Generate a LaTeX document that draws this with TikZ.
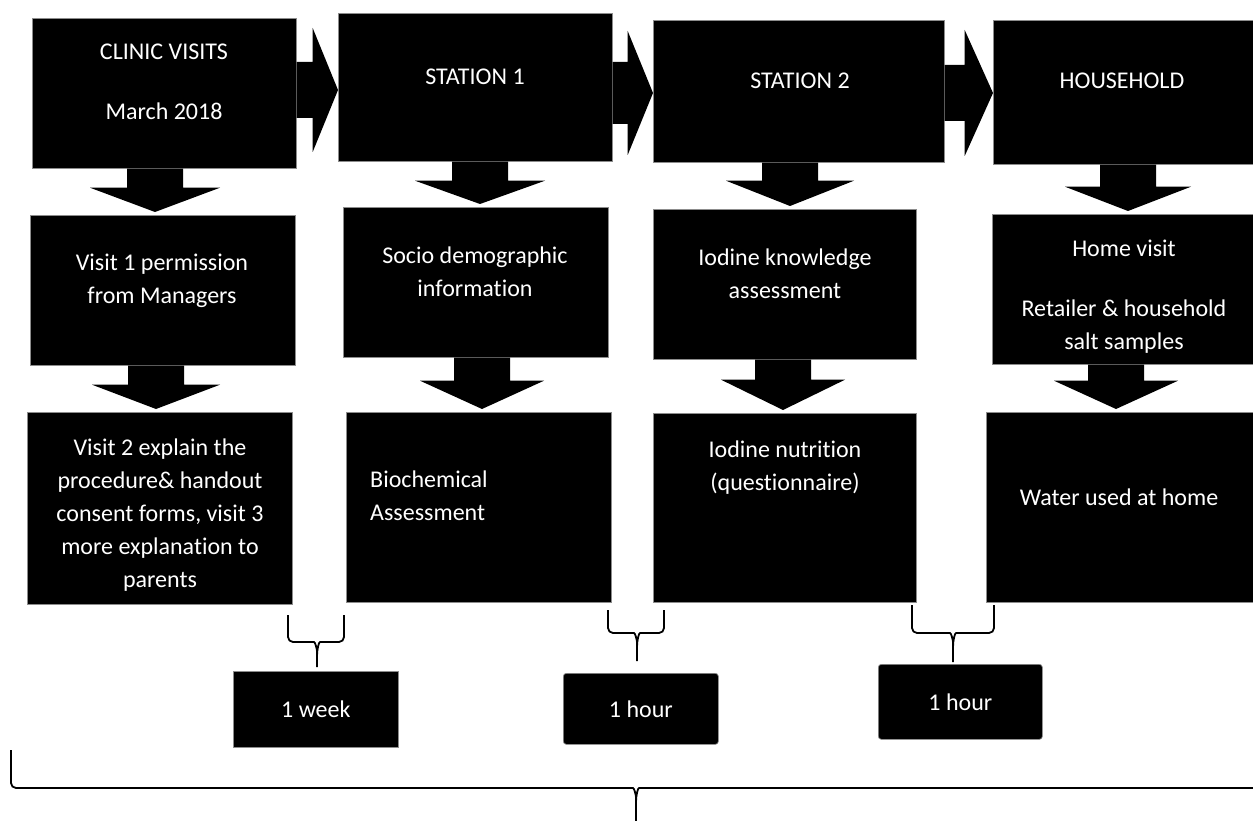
\documentclass[tikz,border=0pt]{standalone}
\usepackage{fontspec}
\setmainfont{Carlito}[Ligatures=NoCommon]
\usetikzlibrary{calc}

% Block arrow pointing down from one box to the box below it.
% #1 source node, #2 target node, #3 axis x, #4 shaft half width,
% #5 head half width, #6 shaft length
\newcommand\downblock[6]{%
  \fill let \p1=(#1.south), \p2=(#2.north) in
    (#3pt-#4pt,\y1) -- (#3pt+#4pt,\y1) -- (#3pt+#4pt,\y1-#6pt)
    -- (#3pt+#5pt,\y1-#6pt) -- (#3pt,\y2+3pt) -- (#3pt-#5pt,\y1-#6pt)
    -- (#3pt-#4pt,\y1-#6pt) -- cycle;}

% Block arrow pointing right from one box to the next one.
% #1 source node, #2 target node, #3 axis y (from the top), #4 shaft half
% height, #5 head half height, #6 shaft length
\newcommand\rightblock[6]{%
  \fill let \p1=(#1.east), \p2=(#2.west) in
    (\x1,-#3pt+#4pt) -- (\x1+#6pt,-#3pt+#4pt) -- (\x1+#6pt,-#3pt+#5pt)
    -- (\x2,-#3pt) -- (\x1+#6pt,-#3pt-#5pt) -- (\x1+#6pt,-#3pt-#4pt)
    -- (\x1,-#3pt-#4pt) -- cycle;}

% Curly brace opening upwards, its stem ending at a named point.
% #1 left arm, #2 right arm, #3 arm top, #4 bar height, #5 stem x, #6 stem end
\newcommand\spanbrace[6]{%
  \draw[bracepen] (#1,#3) -- (#1,#4) -- (#5-8,#4) to[out=0,in=90] (#5,#4+14) -- (#6);
  \draw[bracepen] (#2,#3) -- (#2,#4) -- (#5+8,#4) to[out=180,in=90] (#5,#4+14);}

\begin{document}
\begin{tikzpicture}[x=1pt,y=-1pt,
  box/.style={fill=black, draw=black!45, line width=0.7pt, inner sep=0pt,
              anchor=north west},
  tbox/.style={box, text=white, font=\fontsize{24}{33}\selectfont},
  rbox/.style={tbox, rounded corners=3pt},
  txt/.style={text=white, font=\fontsize{24}{33}\selectfont, align=center,
              inner sep=0pt, anchor=north},
  bracepen/.style={line width=1.8pt, rounded corners=5pt, line join=round}]

\fill[white] (0,0) rectangle (1253,821);
\useasboundingbox (0,0) rectangle (1253,821);

% top row
\node[box, minimum width=264, minimum height=150] (A) at (32,18) {};
\node[box, minimum width=274, minimum height=148] (B) at (338,13) {};
\node[box, minimum width=291, minimum height=142] (C) at (653,20) {};
\node[box, minimum width=262, minimum height=144] (D) at (993,20) {};

% second row
\node[box, minimum width=265, minimum height=150] (A2) at (30,215) {};
\node[box, minimum width=265, minimum height=150] (B2) at (343,207) {};
\node[box, minimum width=263, minimum height=150] (C2) at (653,209) {};
\node[box, minimum width=263, minimum height=150] (D2) at (992,214) {};

% third row
\node[box, minimum width=265, minimum height=192] (A3) at (27,412) {};
\node[box, minimum width=265, minimum height=190] (B3) at (346,412) {};
\node[box, minimum width=263, minimum height=189] (C3) at (653,413) {};
\node[box, minimum width=269, minimum height=190] (D3) at (986,412) {};

% box texts
\node[txt] (tA) at (164,44) {CLINIC VISITS\\[27pt]March 2018};
\node[txt] (tB) at (475,69) {STATION 1};
\node[txt] (tC) at (800,73) {STATION 2};
\node[txt] (tD) at (1122,73) {HOUSEHOLD};
\node[txt] (tA2) at (162,254) {Visit 1 permission\\from Managers};
\node[txt] (tB2) at (475,247) {Socio demographic\\information};
\node[txt] (tC2) at (785,249) {Iodine knowledge\\assessment};
\node[txt] (tD2) at (1124,240) {Home visit\\[27pt]Retailer \& household\\salt samples};
\node[txt] (tA3) at (160,439) {Visit 2 explain the\\procedure\& handout\\consent forms, visit 3\\more explanation to\\parents};
\node[txt, align=left, anchor=north west] (tB3) at (370,471) {Biochemical\\Assessment};
\node[txt] (tC3) at (785,441) {Iodine nutrition\\(questionnaire)};
\node[txt] (tD3) at (1119,489) {Water used at home};

% horizontal flow
\rightblock{A}{B}{90}{28}{62}{16}
\rightblock{B}{C}{93}{31}{62}{15}
\rightblock{C}{D}{93}{28}{63}{20}

% vertical flow
\downblock{A}{A2}{155}{28}{65}{19}
\downblock{B}{B2}{480}{28}{65}{19}
\downblock{C}{C2}{790}{28}{64}{18}
\downblock{D}{D2}{1128}{28}{63}{22}
\downblock{A2}{A3}{156}{28}{64}{19}
\downblock{B2}{B3}{482}{28}{62}{23}
\downblock{C2}{C3}{783}{28}{62}{20}
\downblock{D2}{D3}{1116}{28}{62}{16}

% time spans
\node[tbox, minimum width=165, minimum height=76] (w1) at (233,671) {1 week};
\node[rbox, minimum width=155, minimum height=71] (h1) at (563,673) {1 hour};
\node[rbox, minimum width=164, minimum height=75] (h2) at (878,664) {1 hour};

\coordinate (s1) at (317,667);
\coordinate (s2) at (637,661);
\coordinate (s3) at (953,662);
\coordinate (sAll) at (636,830);

\spanbrace{288}{344}{615}{642}{317}{s1}
\spanbrace{608}{664}{610}{633}{637}{s2}
\spanbrace{912}{994}{605}{633}{953}{s3}
\spanbrace{11}{1262}{750}{788}{636}{sAll}

\end{tikzpicture}
\end{document}
